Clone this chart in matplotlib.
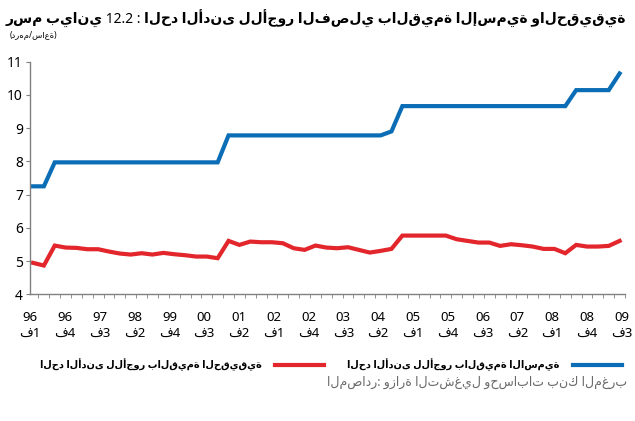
import numpy as np
import matplotlib
matplotlib.use("Agg")
import matplotlib.pyplot as plt

plt.rcParams['font.family'] = ['Noto Sans', 'DejaVu Sans']

# quarterly minimum wage (dirham/hour), 96 Q1 .. 09 Q3
nominal = [7.25, 7.25, 7.97, 7.97, 7.97, 7.97, 7.97, 7.97, 7.97, 7.97,
           7.97, 7.97, 7.97, 7.97, 7.97, 7.97, 7.97, 7.97, 8.78, 8.78,
           8.78, 8.78, 8.78, 8.78, 8.78, 8.78, 8.78, 8.78, 8.78, 8.78,
           8.78, 8.78, 8.78, 8.90, 9.66, 9.66, 9.66, 9.66, 9.66, 9.66,
           9.66, 9.66, 9.66, 9.66, 9.66, 9.66, 9.66, 9.66, 9.66, 9.66,
           10.14, 10.14, 10.14, 10.14, 10.64]
real = [4.95, 4.87, 5.47, 5.41, 5.40, 5.36, 5.36, 5.29, 5.23, 5.20,
        5.24, 5.20, 5.25, 5.21, 5.18, 5.14, 5.14, 5.09, 5.61, 5.49,
        5.59, 5.57, 5.57, 5.54, 5.39, 5.34, 5.47, 5.41, 5.39, 5.42,
        5.34, 5.26, 5.31, 5.37, 5.77, 5.77, 5.77, 5.77, 5.77, 5.66,
        5.61, 5.56, 5.56, 5.46, 5.51, 5.48, 5.44, 5.37, 5.37, 5.24,
        5.49, 5.44, 5.44, 5.46, 5.61]
years = ['96', '96', '97', '98', '99', '00', '01', '02', '02',
         '03', '04', '05', '05', '06', '07', '08', '08', '09']
quarters = ['1', '4', '3', '2', '4', '3', '2', '1', '4',
            '3', '2', '1', '4', '3', '2', '1', '4', '3']

title = 'رسم بياني 12.2 : الحد الأدنى للأجور الفصلي بالقيمة الإسمية والحقيقية'
unit = '(درهم/ساعة)'
lbl_nominal = 'الحد الأدنى للأجور بالقيمة الاسمية'
lbl_real = 'الحد الأدنى للأجور بالقيمة الحقيقية'
source = 'المصادر: وزارة التشغيل وحسابات بنك المغرب'
q_letter = 'ف'

x = np.arange(len(nominal))
blue = '#0a6db5'
red = '#e2262c'
grey = '#808080'

fig = plt.figure(figsize=(6.35, 4.21), dpi=100)
ax = fig.add_axes([0.0472, 0.3005, 0.9371, 0.5534])

l_nom, = ax.plot(x, nominal, color=blue, lw=3, solid_joinstyle='miter')
l_real, = ax.plot(x, real, color=red, lw=3, solid_joinstyle='miter')

ax.set_ylim(4, 11)
ax.set_xlim(-0.28, 54.5)
ax.set_yticks(range(4, 12))
ax.tick_params(axis='y', direction='out', length=3, color=grey, labelsize=10, pad=2)

pos = np.linspace(-0.25, 54.2, len(years))
ax.set_xticks(pos)
ax.set_xticklabels([y + '\n' + q_letter + q for y, q in zip(years, quarters)],
                   fontsize=9.5, linespacing=1.25)
ax.tick_params(axis='x', which='major', length=0, pad=12)
ax.set_xticks(np.arange(0.5, 55, 1), minor=True)
ax.tick_params(axis='x', which='minor', direction='out', length=3, color=grey)

for side in ['top', 'right']:
    ax.spines[side].set_visible(False)
for side in ['left', 'bottom']:
    ax.spines[side].set_color(grey)
    ax.spines[side].set_linewidth(1)

fig.text(0.986, 1 - 19 / 421, title, ha='right', va='center',
         fontsize=10, fontweight='bold')
fig.text(10 / 635, 1 - 35 / 421, unit, ha='left', va='center', fontsize=6)

ax.legend([l_real, l_nom], [lbl_real, lbl_nominal], ncol=2,
          markerfirst=False, frameon=False, loc='center',
          bbox_to_anchor=(0.521, 1 - 365 / 421), bbox_transform=fig.transFigure,
          handlelength=5.0, handletextpad=1.4, columnspacing=2.4,
          prop={'size': 7, 'weight': 'bold'})

fig.text(0.987, 1 - 382 / 421, source, ha='right', va='center',
         fontsize=9, color='#6a6a6a')

fig.savefig('out.png', dpi=100)
